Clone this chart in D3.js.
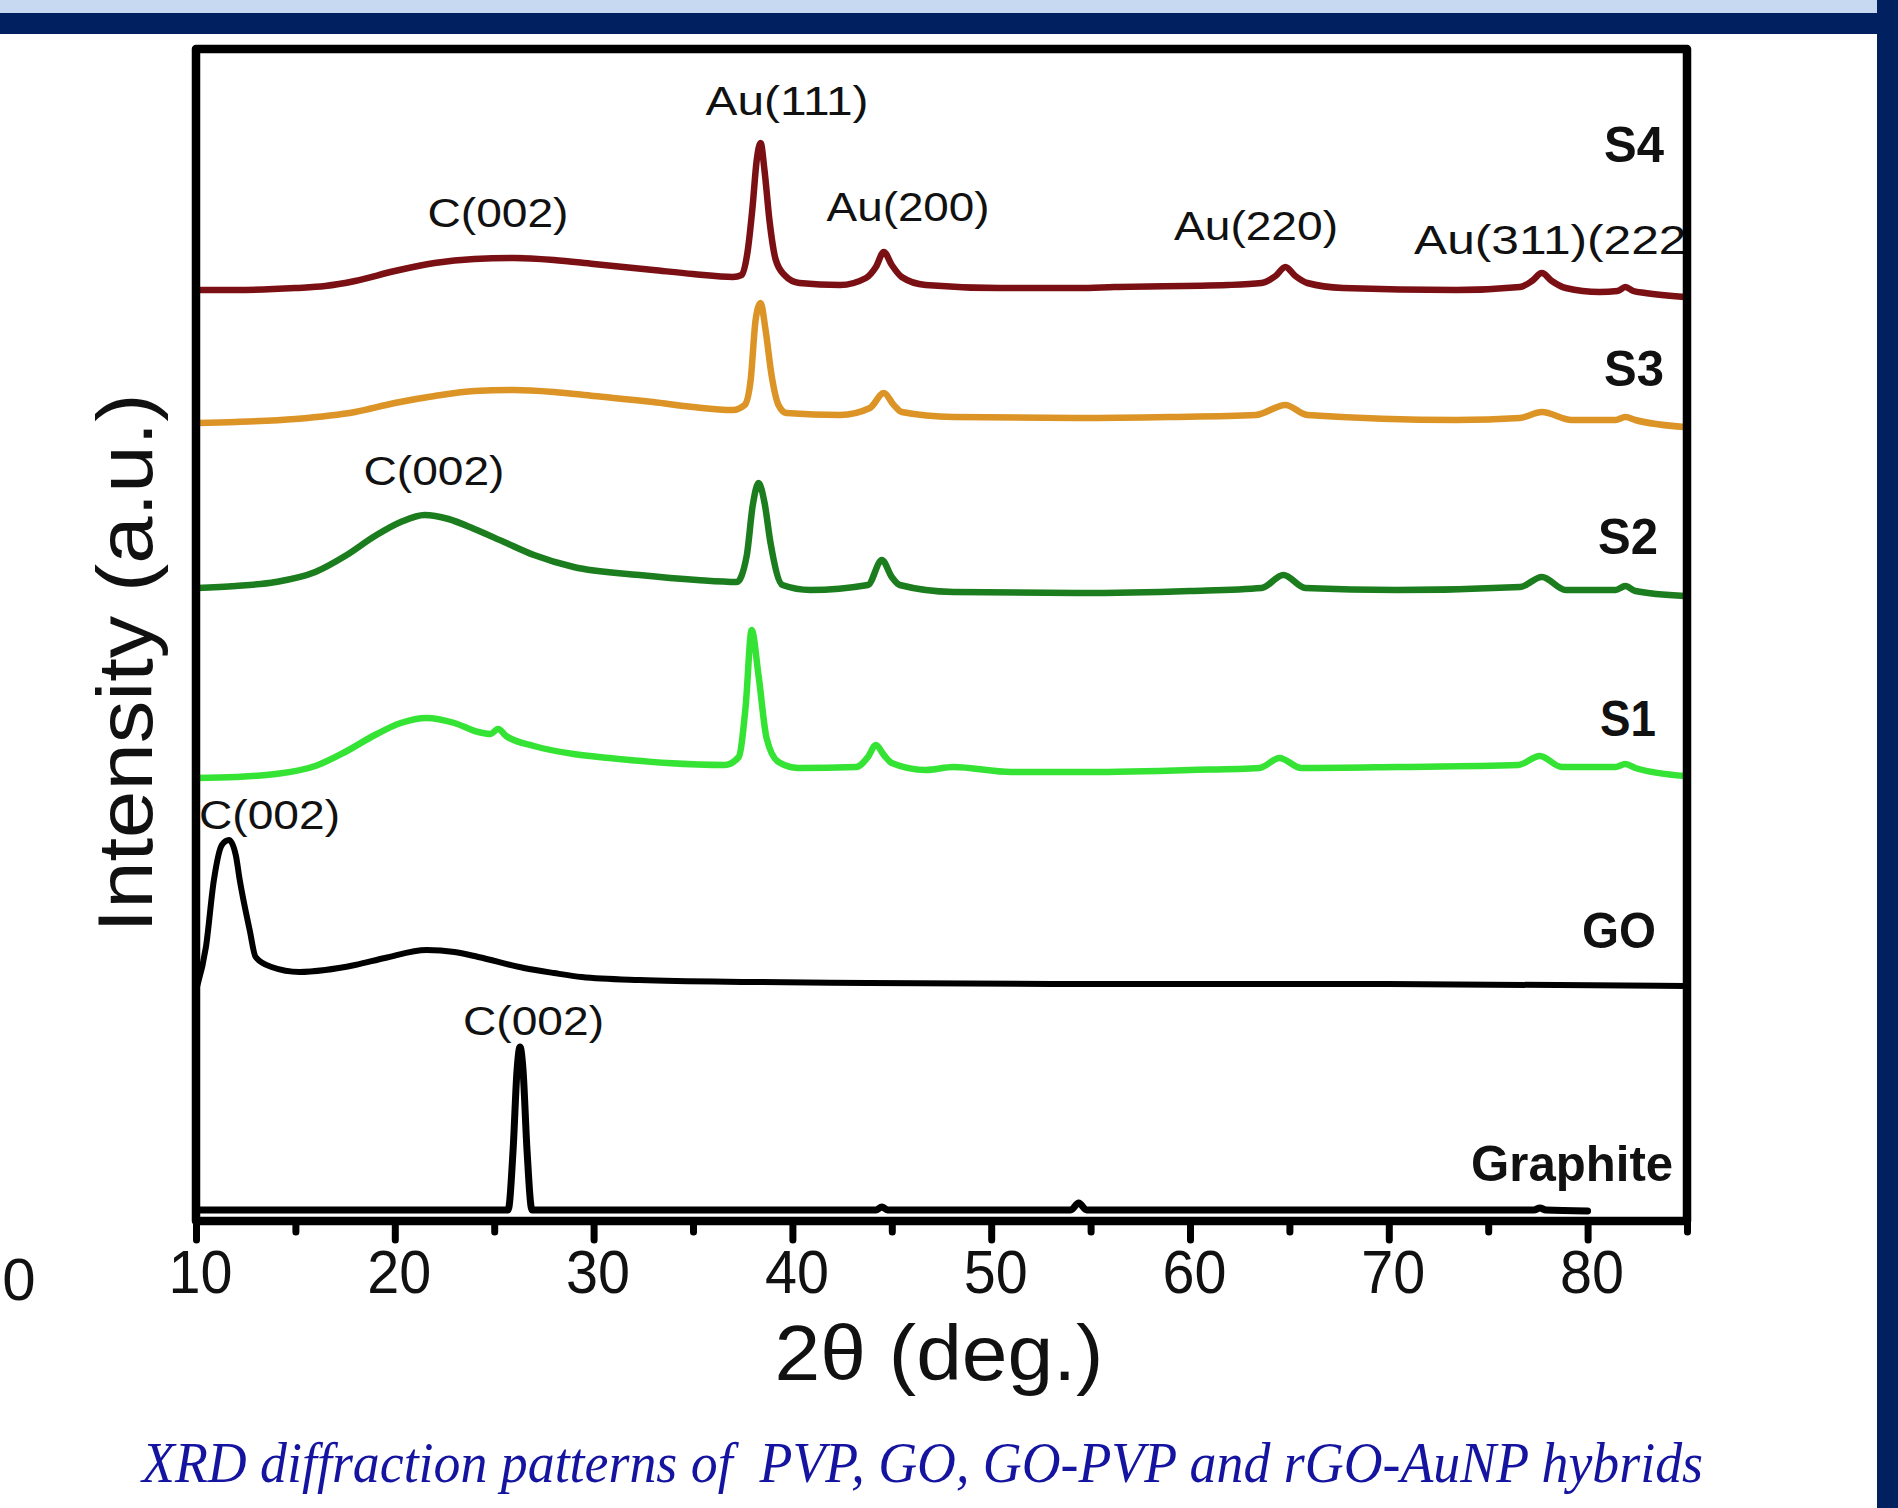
<!DOCTYPE html>
<html><head><meta charset="utf-8">
<script src="https://cdn.jsdelivr.net/npm/d3@7/dist/d3.min.js"></script>
<style>
html,body{margin:0;padding:0;background:#fff;}
svg{display:block;}
</style>
</head><body>
<svg id="chart" width="1898" height="1508"></svg>
<script>
// ---------- data (2θ in degrees, stacked intensity in a.u.) ----------
const xMajorTicks = [10,20,30,40,50,60,70,80];
const xMinorTicks = [15,25,35,45,55,65,75,85];
const seriesNames = ["S4","S3","S2","S1","GO","Graphite"];

const s4 = [[10.05,93.1],[12.0,93.1],[15.0,93.3],[16.5,93.5],[18.0,94.0],[20.0,95.0],[22.0,95.8],[24.0,96.2],[26.0,96.3],[28.0,96.1],[30.0,95.7],[33.0,95.1],[35.0,94.7],[37.0,94.4],[37.45,94.6],[37.75,97],[38.0,101.5],[38.2,106],[38.4,107.8],[38.6,105],[38.85,100],[39.15,96.2],[39.6,94.6],[40.35,93.8],[42.4,93.6],[43.7,94.3],[44.2,95.4],[44.6,96.9],[45.0,95.6],[45.5,94.4],[46.7,93.6],[50.4,93.3],[54.4,93.3],[56.2,93.4],[61.9,93.6],[63.6,93.8],[64.3,94.5],[64.8,95.4],[65.3,94.5],[65.9,93.8],[67.7,93.3],[73.4,93.1],[76.6,93.4],[77.2,94.0],[77.7,94.8],[78.2,94.0],[78.9,93.3],[80.6,92.9],[81.5,93.0],[81.9,93.4],[82.3,93.0],[82.9,92.8],[84.9,92.4]];

const s3 = [[10.05,79.8],[12.0,79.9],[15.0,80.2],[18.0,80.9],[20.0,81.8],[22.0,82.5],[24.0,83.0],[26.0,83.1],[28.0,82.9],[30.0,82.5],[33.0,81.9],[35.0,81.4],[37.0,81.1],[37.6,81.6],[37.9,84.1],[38.15,90.1],[38.4,91.8],[38.65,89.1],[38.95,84.6],[39.3,81.6],[39.7,80.8],[42.4,80.6],[43.9,81.3],[44.6,82.8],[45.1,81.6],[45.5,80.9],[48.1,80.4],[54.4,80.3],[59.0,80.4],[63.3,80.6],[64.8,81.6],[65.9,80.6],[73.4,80.1],[76.6,80.3],[77.7,80.9],[79.2,80.1],[81.4,80.1],[81.9,80.4],[82.4,80.1],[84.9,79.4]];

const s2 = [[10.05,63.3],[12.0,63.5],[14.0,63.9],[16.0,64.9],[17.5,66.5],[19.0,68.5],[20.3,69.9],[21.5,70.6],[22.7,70.2],[24.0,69.2],[25.5,67.9],[27.0,66.6],[29.0,65.4],[32.3,64.6],[35.2,64.1],[37.2,63.9],[37.7,66.5],[38.0,71.5],[38.3,73.8],[38.6,71.8],[38.9,67.8],[39.5,63.6],[40.9,63.1],[43.8,63.6],[44.5,66.1],[45.0,64.4],[45.4,63.6],[48.1,62.9],[54.4,62.8],[60.0,63.0],[63.6,63.3],[64.7,64.6],[65.8,63.3],[70.4,63.1],[76.6,63.4],[77.7,64.4],[78.9,63.1],[81.4,63.1],[81.9,63.5],[82.4,63.0],[84.9,62.5]];

const s1 = [[10.0,44.3],[12.0,44.4],[14.0,44.7],[16.0,45.5],[17.5,46.9],[19.0,48.6],[20.3,49.8],[21.6,50.3],[23.0,49.8],[24.2,48.9],[24.8,48.7],[25.2,49.2],[25.6,48.5],[27.0,47.5],[29.0,46.7],[30.8,46.3],[33.7,45.8],[36.6,45.6],[37.3,46.4],[37.65,51.5],[37.95,59.1],[38.3,54.5],[38.7,48.3],[39.3,45.9],[40.3,45.3],[43.2,45.4],[43.8,46.4],[44.2,47.6],[44.6,46.6],[45.0,45.8],[46.7,45.1],[48.1,45.4],[51.0,44.9],[54.4,44.9],[60.0,45.1],[63.5,45.3],[64.5,46.3],[65.6,45.3],[70.4,45.4],[76.5,45.6],[77.6,46.5],[78.7,45.4],[81.4,45.4],[81.9,45.7],[82.4,45.3],[84.9,44.5]];

const go = [[10.05,23.4],[10.5,27.4],[10.9,34.1],[11.3,37.6],[11.66,38.1],[12.0,36.6],[12.2,34.1],[12.7,29.1],[13.0,26.4],[13.8,25.4],[15.2,24.9],[16.5,25.1],[18.0,25.6],[19.5,26.3],[21.6,27.1],[23.0,26.9],[24.2,26.4],[26.5,25.3],[28.0,24.8],[29.4,24.4],[32.3,24.1],[38.0,23.9],[43.8,23.8],[54.4,23.7],[70.0,23.7],[84.9,23.5]];

const graphite = [[10.0,1.1],[25.7,1.1],[25.95,7.1],[26.15,15.1],[26.3,17.4],[26.45,15.1],[26.65,7.1],[26.9,1.1],[44.2,1.1],[44.5,1.4],[44.8,1.1],[54.0,1.1],[54.4,1.8],[54.8,1.1],[77.3,1.1],[77.6,1.3],[77.9,1.1],[80.0,1.0]];

// annotation labels: [text, 2θ, intensity]
const peakLabels = [["Au(111)",39.73,110.6],["C(002)",25.19,99.4],["Au(200)",45.82,100.0],["Au(220)",63.32,98.1],["C(002)",21.97,73.6],["C(002)",13.70,39.2],["C(002)",26.98,18.6]];
const clippedLabel = ["Au(311)(222)",71.27,96.7];
const seriesLabelPos = [[83.84,105.9],[83.84,83.5],[83.54,66.7],[83.44,48.5],[83.44,27.3],[84.30,4.0]];

// ---------- drawing ----------
const svg = d3.select("#chart");
const W = 1898, H = 1508;
const m = {left:196, right:1687, top:49, bottom:1221};
const x = d3.scaleLinear().domain([10,85]).range([m.left,m.right]);
const y = d3.scaleLinear().domain([0,117.2]).range([m.bottom,m.top]);

// slide decorations
svg.append("rect").attr("x",0).attr("y",0).attr("width",1877).attr("height",13).attr("fill","#c6d9f1");
svg.append("rect").attr("x",0).attr("y",13).attr("width",W).attr("height",21).attr("fill","#002060");
svg.append("rect").attr("x",1877).attr("y",0).attr("width",W-1877).attr("height",H).attr("fill","#002060");

const sans = "'Liberation Sans', Arial, sans-serif";
const colors = {S4:"#7b1014",S3:"#dc9426",S2:"#1b7d1d",S1:"#35e335",GO:"#000000",Graphite:"#000000"};
const data = {S4:s4,S3:s3,S2:s2,S1:s1,GO:go,Graphite:graphite};
const widths = {S4:6.5,S3:6.5,S2:6.5,S1:6.5,GO:6,Graphite:7};

const line = d3.line().x(d=>x(d[0])).y(d=>y(d[1])).curve(d3.curveMonotoneX);
const gLines = svg.append("g");
seriesNames.forEach(n=>{
  gLines.append("path").datum(data[n]).attr("d",line)
    .attr("fill","none").attr("stroke",colors[n]).attr("stroke-width",widths[n])
    .attr("stroke-linejoin","round").attr("stroke-linecap","round");
});

// axes ticks
const axMaj = d3.axisBottom(x).tickValues(xMajorTicks).tickSize(19).tickPadding(9).tickFormat(d3.format("d"));
const axMin = d3.axisBottom(x).tickValues(xMinorTicks).tickSize(11).tickFormat("");
const gMin = svg.append("g").attr("transform",`translate(0,${m.bottom})`).call(axMin);
const gMaj = svg.append("g").attr("transform",`translate(0,${m.bottom})`).call(axMaj);
[gMin,gMaj].forEach(g=>{
  g.select(".domain").remove();
  g.selectAll(".tick line").attr("stroke","#000").attr("stroke-width",7).attr("stroke-linecap","round");
});
gMaj.selectAll(".tick text").attr("font-family",sans).attr("font-size",62).attr("fill","#111").attr("dx",4)
  .attr("textLength",64).attr("lengthAdjust","spacingAndGlyphs");

// clipped label (behind frame)
svg.append("clipPath").attr("id","clipR").append("rect").attr("x",0).attr("y",0).attr("width",1688).attr("height",H);
svg.append("text").attr("clip-path","url(#clipR)")
  .attr("x",x(clippedLabel[1])).attr("y",y(clippedLabel[2]))
  .attr("font-family",sans).attr("font-size",40).attr("fill","#111")
  .attr("textLength",289).attr("lengthAdjust","spacingAndGlyphs")
  .text(clippedLabel[0]);

// frame
svg.append("rect").attr("x",m.left).attr("y",m.top).attr("width",m.right-m.left).attr("height",m.bottom-m.top)
  .attr("fill","none").attr("stroke","#000").attr("stroke-width",8.5).attr("stroke-linejoin","round");

// peak labels
const peakW = {"Au(111)":163,"Au(200)":163,"Au(220)":164,"C(002)":141};
svg.append("g").selectAll("text").data(peakLabels).join("text")
  .attr("x",d=>x(d[1])).attr("y",d=>y(d[2])).attr("text-anchor","middle")
  .attr("font-family",sans).attr("font-size",40).attr("fill","#111")
  .attr("textLength",d=>peakW[d[0]]).attr("lengthAdjust","spacingAndGlyphs")
  .text(d=>d[0]);

// series labels
const serW = {S4:60,S3:60,S2:60,S1:56,GO:74,Graphite:202};
svg.append("g").selectAll("text").data(seriesNames).join("text")
  .attr("x",(d,i)=>x(seriesLabelPos[i][0])).attr("y",(d,i)=>y(seriesLabelPos[i][1]))
  .attr("text-anchor","end").attr("font-family",sans).attr("font-weight","bold")
  .attr("font-size",50).attr("fill","#111")
  .attr("textLength",d=>serW[d]).attr("lengthAdjust","spacingAndGlyphs")
  .text(d=>d);

// axis titles
svg.append("text").attr("transform",`translate(152,663) rotate(-90)`)
  .attr("text-anchor","middle").attr("font-family",sans).attr("font-size",78).attr("fill","#111")
  .attr("textLength",539).attr("lengthAdjust","spacingAndGlyphs")
  .text("Intensity (a.u.)");
svg.append("text").attr("x",939).attr("y",1380).attr("text-anchor","middle")
  .attr("font-family",sans).attr("font-size",77).attr("fill","#111")
  .attr("textLength",329).attr("lengthAdjust","spacingAndGlyphs")
  .text("2θ (deg.)");

// stray tick label at left edge
svg.append("text").attr("x",19).attr("y",1300).attr("text-anchor","middle")
  .attr("font-family",sans).attr("font-size",60).attr("fill","#111").text("0");

// caption
svg.append("text").attr("x",142).attr("y",1482)
  .attr("font-family","'Liberation Serif', 'Times New Roman', serif").attr("font-style","italic")
  .attr("font-size",58).attr("fill","#1414a0").style("white-space","pre")
  .attr("textLength",1561).attr("lengthAdjust","spacingAndGlyphs")
  .text("XRD diffraction patterns of  PVP, GO, GO-PVP and rGO-AuNP hybrids");
</script>
</body></html>
